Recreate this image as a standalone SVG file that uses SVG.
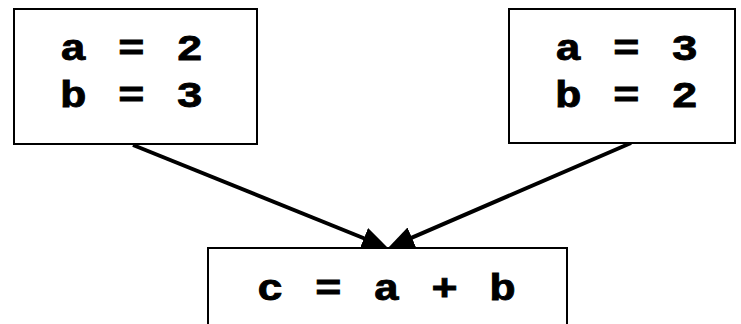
<svg xmlns="http://www.w3.org/2000/svg" width="741" height="324" viewBox="0 0 741 324">
<style>
.box{fill:#fff;stroke:#000;stroke-width:2}
.t{font-family:"Liberation Mono","DejaVu Sans Mono",monospace;font-weight:bold;font-size:37px;letter-spacing:2px;fill:#000;stroke:#000;stroke-width:0.8px}
.edge{stroke:#000;stroke-width:4;fill:none}
</style>
<defs>
<marker id="ah" markerUnits="userSpaceOnUse" markerWidth="28" markerHeight="24" refX="10" refY="11" orient="auto">
<path d="M0,0 L26,11 L0,22 z" fill="#000"/>
</marker>
</defs>
<g id="connectors">
<line class="edge" x1="133" y1="145" x2="373.2" y2="242" marker-end="url(#ah)"/>
<line class="edge" x1="631" y1="143" x2="402.7" y2="241.6" marker-end="url(#ah)"/>
</g>
<g id="node1">
<rect class="box" x="14" y="9" width="243" height="135"/>
<g transform="scale(1.2,1)">
<text class="t" x="50" y="60">a = 2</text>
<text class="t" x="50" y="107">b = 3</text>
</g>
</g>
<g id="node2">
<rect class="box" x="509" y="9" width="226" height="134"/>
<g transform="scale(1.2,1)">
<text class="t" x="462.5" y="60">a = 3</text>
<text class="t" x="462.5" y="107">b = 2</text>
</g>
</g>
<g id="node3">
<rect class="box" x="208" y="248" width="359" height="90"/>
<g transform="scale(1.2,1)">
<text class="t" x="214.2" y="300">c = a + b</text>
</g>
</g>
</svg>
